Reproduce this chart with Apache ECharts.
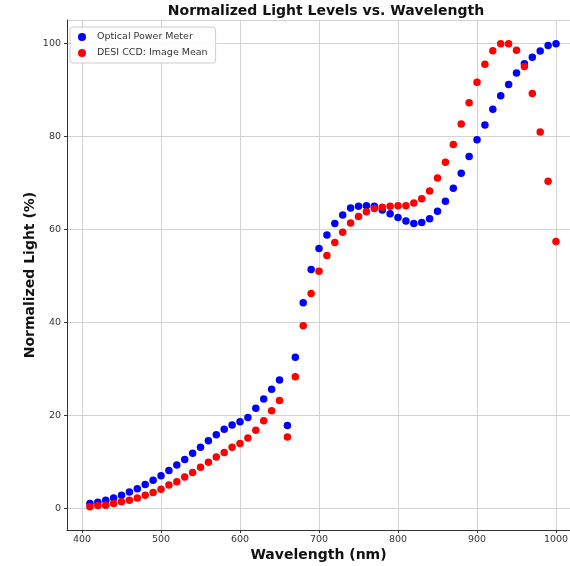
<!DOCTYPE html>
<html>
<head>
<meta charset="utf-8">
<script src="https://cdn.jsdelivr.net/npm/echarts@6/dist/echarts.min.js"></script>
<style>
  html, body { margin: 0; padding: 0; background: #fff; }
  #chart { width: 570px; height: 566px; }
</style>
</head>
<body>
<div id="chart"></div>
<script>
// Wavelengths sampled every 10 nm
const wavelengths = [
  410, 420, 430, 440, 450, 460, 470, 480, 490, 500,
  510, 520, 530, 540, 550, 560, 570, 580, 590, 600,
  610, 620, 630, 640, 650, 660, 670, 680, 690, 700,
  710, 720, 730, 740, 750, 760, 770, 780, 790, 800,
  810, 820, 830, 840, 850, 860, 870, 880, 890, 900,
  910, 920, 930, 940, 950, 960, 970, 980, 990, 1000
];

// Normalized readings (%) from the optical power meter
const powerMeter = [
  1.0, 1.3, 1.7, 2.2, 2.8, 3.5, 4.2, 5.1, 6.0, 7.0,
  8.1, 9.3, 10.5, 11.8, 13.1, 14.5, 15.8, 17.0, 17.9, 18.6,
  19.5, 21.5, 23.5, 25.6, 27.6, 17.8, 32.5, 44.2, 51.4, 55.9,
  58.8, 61.3, 63.1, 64.6, 65.0, 65.1, 65.0, 64.2, 63.4, 62.6,
  61.8, 61.3, 61.5, 62.3, 63.9, 66.1, 68.9, 72.1, 75.7, 79.3,
  82.5, 85.9, 88.8, 91.2, 93.7, 95.7, 97.1, 98.4, 99.6, 100.0
];

// Normalized image mean (%) from the DESI CCD
const ccdMean = [
  0.3, 0.6, 0.65, 1.0, 1.4, 1.7, 2.2, 2.8, 3.4, 4.1,
  5.0, 5.7, 6.7, 7.7, 8.8, 9.9, 11.0, 12.0, 13.1, 13.9,
  15.1, 16.8, 18.8, 21.0, 23.2, 15.3, 28.3, 39.3, 46.2, 51.0,
  54.4, 57.2, 59.4, 61.4, 62.8, 63.8, 64.5, 64.8, 65.0, 65.1,
  65.1, 65.7, 66.6, 68.3, 71.1, 74.5, 78.3, 82.7, 87.3, 91.7,
  95.6, 98.5, 100.0, 100.0, 98.6, 95.1, 89.3, 81.0, 70.4, 57.4
];

const seriesNames = ['Optical Power Meter', 'DESI CCD: Image Mean'];

const pair = (xs, ys) => xs.map((x, i) => [x, ys[i]]);

const chart = echarts.init(document.getElementById('chart'), null, { renderer: 'canvas' });

const axisText = { color: '#333', fontSize: 9.5, fontFamily: 'DejaVu Sans', formatter: (v) => String(v) };
const nameText = { color: '#111', fontSize: 14, fontWeight: 'bold', fontFamily: 'DejaVu Sans' };

chart.setOption({
  animation: false,
  backgroundColor: '#fff',
  title: {
    text: 'Normalized Light Levels vs. Wavelength',
    left: 321,
    top: -1,
    textAlign: 'center',
    textStyle: { color: '#111', fontSize: 14, fontWeight: 'bold', fontFamily: 'DejaVu Sans' }
  },
  legend: {
    orient: 'vertical',
    left: 70,
    top: 27,
    data: seriesNames,
    icon: 'circle',
    itemWidth: 8,
    itemHeight: 8,
    itemGap: 6,
    padding: [5, 8, 5, 8],
    backgroundColor: 'rgba(255,255,255,0.85)',
    borderColor: '#cccccc',
    borderWidth: 1,
    borderRadius: 3,
    textStyle: { color: '#333', fontSize: 9.5, fontFamily: 'DejaVu Sans', padding: [0, 0, 0, 6] }
  },
  grid: { left: 67, right: 0, top: 20, bottom: 36, outerBoundsMode: 'none', containLabel: false },
  xAxis: {
    type: 'value',
    min: 381,
    max: 1017.7,
    minInterval: 100,
    maxInterval: 100,
    name: 'Wavelength (nm)',
    nameLocation: 'middle',
    nameGap: 18,
    nameMoveOverlap: false,
    nameTextStyle: nameText,
    axisLine: { show: true, onZero: false, lineStyle: { color: '#333', width: 1 } },
    axisTick: { show: true, length: 3, lineStyle: { color: '#333' } },
    axisLabel: Object.assign({ margin: 5, showMinLabel: false, showMaxLabel: false }, axisText),
    splitLine: { show: true, lineStyle: { color: '#d3d3d3', width: 1 } }
  },
  yAxis: {
    type: 'value',
    min: -4.7,
    max: 105.1,
    minInterval: 20,
    maxInterval: 20,
    name: 'Normalized Light (%)',
    nameLocation: 'middle',
    nameGap: 30,
    nameMoveOverlap: false,
    nameTextStyle: nameText,
    axisLine: { show: true, onZero: false, lineStyle: { color: '#333', width: 1 } },
    axisTick: { show: true, length: 3, lineStyle: { color: '#333' } },
    axisLabel: Object.assign({ margin: 6, showMinLabel: false, showMaxLabel: false }, axisText),
    splitLine: { show: true, lineStyle: { color: '#d3d3d3', width: 1 } }
  },
  series: [
    {
      name: seriesNames[0],
      type: 'scatter',
      data: pair(wavelengths, powerMeter),
      symbolSize: 7.5,
      itemStyle: { color: '#0000ff', opacity: 1 }
    },
    {
      name: seriesNames[1],
      type: 'scatter',
      data: pair(wavelengths, ccdMean),
      symbolSize: 7.5,
      itemStyle: { color: '#ff0000', opacity: 1 }
    }
  ],
  graphic: [
    {
      // top frame line of the plotting area
      type: 'line',
      shape: { x1: 67, y1: 20.5, x2: 570, y2: 20.5 },
      style: { stroke: '#333', lineWidth: 1 },
      silent: true
    }
  ]
});
</script>
</body>
</html>
